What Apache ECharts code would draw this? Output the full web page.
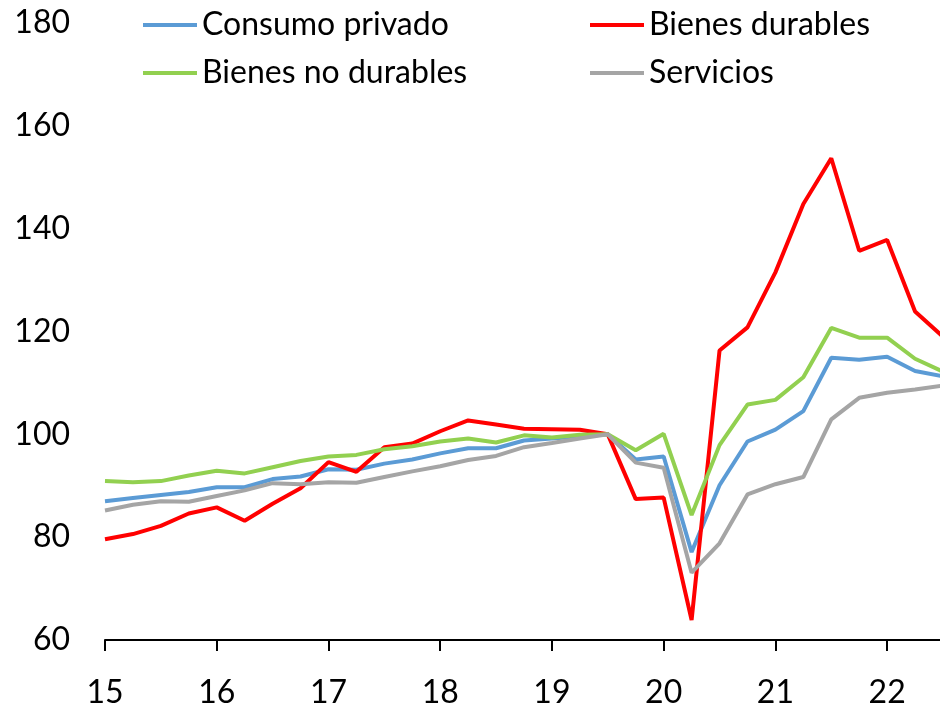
<!DOCTYPE html>
<html>
<head>
<meta charset="utf-8">
<script src="https://cdn.jsdelivr.net/npm/echarts@6/dist/echarts.min.js"></script>
<style>
  html, body { margin: 0; padding: 0; background: #fff; }
  #consumoChart { width: 940px; height: 705px; }
</style>
</head>
<body>
<div id="consumoChart"></div>
<script>
// trimestres (año 2015 = 15)
const quarters = [
  15, 15.25, 15.5, 15.75, 16, 16.25, 16.5, 16.75,
  17, 17.25, 17.5, 17.75, 18, 18.25, 18.5, 18.75,
  19, 19.25, 19.5, 19.75, 20, 20.25, 20.5, 20.75,
  21, 21.25, 21.5, 21.75, 22, 22.25, 22.5
];
const consumoPrivado = [
  87.0, 87.6, 88.2, 88.8, 89.7, 89.7, 91.3, 91.8,
  93.2, 93.1, 94.3, 95.1, 96.3, 97.3, 97.3, 98.8,
  99.2, 99.6, 100, 95.1, 95.7, 77.1, 90.1, 98.6,
  100.9, 104.5, 114.9, 114.5, 115.1, 112.3, 111.3
];
const bienesDurables = [
  79.6, 80.6, 82.2, 84.6, 85.8, 83.2, 86.5, 89.5,
  94.6, 92.7, 97.5, 98.2, 100.6, 102.7, 101.9, 101.1,
  101.0, 100.9, 100, 87.4, 87.7, 63.9, 116.3, 120.8,
  131.5, 144.8, 153.7, 135.7, 137.8, 123.9, 119.0
];
const bienesNoDurables = [
  90.9, 90.7, 90.9, 92.0, 92.9, 92.4, 93.6, 94.8,
  95.7, 96.0, 97.1, 97.7, 98.6, 99.2, 98.4, 99.8,
  99.4, 99.9, 100, 96.9, 100.1, 84.3, 97.9, 105.8,
  106.7, 111.1, 120.7, 118.8, 118.8, 114.7, 112.2
];
const servicios = [
  85.2, 86.3, 87.0, 86.9, 88.0, 89.1, 90.5, 90.3,
  90.7, 90.6, 91.7, 92.8, 93.8, 95.0, 95.8, 97.5,
  98.3, 99.2, 100, 94.5, 93.5, 73.1, 78.8, 88.3,
  90.3, 91.7, 102.9, 107.1, 108.1, 108.7, 109.5
];

const seriesNames = ["Consumo privado", "Bienes durables", "Bienes no durables", "Servicios"];
const seriesColors = ["#5B9BD5", "#FF0000", "#92D050", "#A5A5A5"];
const seriesValues = [consumoPrivado, bienesDurables, bienesNoDurables, servicios];

const fontName = "Lato";

let chart = echarts.init(document.getElementById("consumoChart"));

let legendBase = {
  orient: "vertical",
  top: 7,
  padding: 0,
  icon: "rect",
  itemWidth: 54,
  itemHeight: 4,
  itemGap: 12,
  textStyle: {
    fontFamily: fontName,
    fontSize: 32,
    lineHeight: 36,
    color: "#000",
  },
};

let options = {
  animation: false,
  backgroundColor: "#fff",
  grid: {
    left: 105,
    width: 838, // el último trimestre queda justo en el borde
    top: 23,
    bottom: 65,
    containLabel: false,
    outerBoundsMode: "none",
  },
  legend: [
    Object.assign({}, legendBase, { left: 143, data: [seriesNames[0], seriesNames[2]] }),
    Object.assign({}, legendBase, { left: 590, data: [seriesNames[1], seriesNames[3]] }),
  ],
  xAxis: {
    type: "value",
    min: 15,
    max: 22.5,
    interval: 1,
    splitLine: { show: false },
    axisLine: { lineStyle: { color: "#000", width: 2 } },
    axisTick: { length: 11, lineStyle: { color: "#000", width: 2 } },
    axisLabel: {
      margin: 37,
      fontFamily: fontName,
      fontSize: 32,
      color: "#000",
      formatter: (v) => (Number.isInteger(v) ? String(v) : ""),
    },
  },
  yAxis: {
    type: "value",
    min: 60,
    max: 180,
    interval: 20,
    splitLine: { show: false },
    axisLine: { show: false },
    axisTick: { show: false },
    axisLabel: {
      margin: 35,
      fontFamily: fontName,
      fontSize: 32,
      color: "#000",
    },
  },
  series: [],
};

seriesNames.forEach((name, i) => {
  options.series.push({
    name: name,
    type: "line",
    symbol: "none",
    color: seriesColors[i],
    lineStyle: { width: 4, color: seriesColors[i] },
    data: quarters.map((q, j) => [q, seriesValues[i][j]]),
  });
});

chart.setOption(options);
</script>
</body>
</html>
